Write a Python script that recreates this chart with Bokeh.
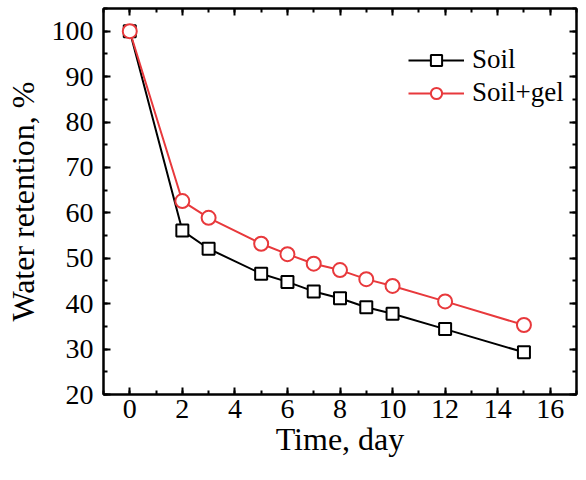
from bokeh.plotting import figure
from bokeh.models import LinearAxis, Range1d, Legend, LegendItem, FixedTicker, CustomJSTickFormatter
from bokeh.embed import file_html
from bokeh.resources import INLINE

days = [0, 2, 3, 5, 6, 7, 8, 9, 10, 12, 15]
soil = [100, 56.1, 52.1, 46.6, 44.8, 42.7, 41.2, 39.2, 37.8, 34.4, 29.3]
soil_gel = [100, 62.6, 58.9, 53.2, 50.9, 48.8, 47.4, 45.4, 43.9, 40.5, 35.3]
x_ticks = [0, 2, 4, 6, 8, 10, 12, 14, 16]
y_ticks = [20, 30, 40, 50, 60, 70, 80, 90, 100]

FONT = "Liberation Serif"
RED = "#e8393c"

p = figure(width=578, height=464, output_backend="svg", toolbar_location=None,
           x_range=Range1d(-1, 17), y_range=Range1d(20, 105),
           min_border_left=103, min_border_right=2, min_border_top=8, min_border_bottom=70)
p.grid.visible = False
p.outline_line_color = "black"
p.outline_line_width = 2
p.background_fill_color = "white"
p.border_fill_color = "white"

def style(ax, ticks, minor, labels=True):
    ax.ticker = FixedTicker(ticks=ticks, minor_ticks=minor)
    ax.major_tick_in = 7
    ax.major_tick_out = 0
    ax.minor_tick_in = 4
    ax.minor_tick_out = 0
    ax.axis_line_width = 2
    ax.major_tick_line_width = 2
    ax.minor_tick_line_width = 2
    ax.major_label_text_font = FONT
    ax.major_label_text_color = "black"
    if labels:
        ax.major_label_text_font_size = "28px"
        ax.major_label_standoff = 5
    else:
        ax.formatter = CustomJSTickFormatter(code="return '';")
        ax.major_label_text_font_size = "2px"
        ax.major_label_standoff = 0

x_minor = list(range(-1, 18))
y_minor = list(range(20, 106, 5))

style(p.xaxis[0], x_ticks, x_minor)
style(p.yaxis[0], y_ticks, y_minor)
p.yaxis[0].major_label_standoff = 10
p.xaxis[0].axis_label = "Time, day"
p.yaxis[0].axis_label = "Water retention, %"
for ax in (p.xaxis[0], p.yaxis[0]):
    ax.axis_label_text_font = FONT
    ax.axis_label_text_font_size = "32px"
    ax.axis_label_text_font_style = "normal"
    ax.axis_label_text_color = "black"
p.xaxis[0].axis_label_standoff = 0
p.yaxis[0].axis_label_standoff = 8

top = LinearAxis()
style(top, x_ticks, x_minor, labels=False)
p.add_layout(top, "above")
right = LinearAxis()
style(right, y_ticks, y_minor, labels=False)
p.add_layout(right, "right")

l1 = p.line(days, soil, line_color="black", line_width=2)
s1 = p.scatter(days, soil, marker="square", size=12, line_color="black",
               fill_color="white", line_width=2)
l2 = p.line(days, soil_gel, line_color=RED, line_width=2)
s2 = p.scatter(days, soil_gel, marker="circle", size=14, line_color=RED,
               fill_color="white", line_width=2)

legend = Legend(items=[LegendItem(label="Soil", renderers=[l1, s1]),
                       LegendItem(label="Soil+gel", renderers=[l2, s2])],
                location=(305, 286))
legend.label_text_font = FONT
legend.label_text_font_size = "27px"
legend.label_text_color = "black"
legend.glyph_width = 56
legend.glyph_height = 28
legend.label_standoff = 8
legend.spacing = 2
legend.background_fill_alpha = 0
legend.border_line_alpha = 0
legend.margin = 0
legend.padding = 0
p.add_layout(legend)

open("out.html", "w").write(file_html(p, INLINE))
